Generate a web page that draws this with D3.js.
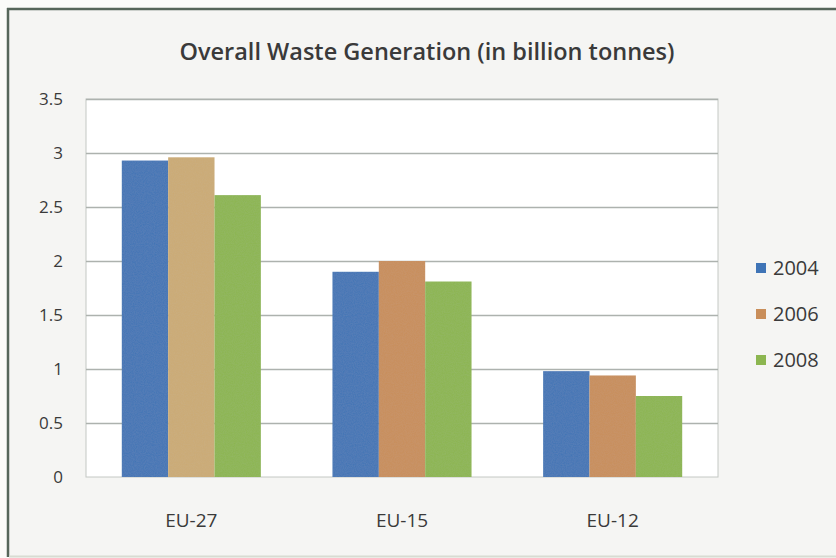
<!DOCTYPE html>
<html>
<head>
<meta charset="utf-8">
<script src="https://cdn.jsdelivr.net/npm/d3@7"></script>
<style>
  html, body { margin: 0; padding: 0; background: #fdfdfb; }
  svg { display: block; }
  text { font-family: "Open Sans", Lato, "DejaVu Sans", sans-serif; fill: #3a3a3a; }
</style>
</head>
<body>
<svg id="chart" width="836" height="558"></svg>
<script>
// Overall waste generation, billion tonnes
const categories = ["EU-27", "EU-15", "EU-12"];
const years = ["2004", "2006", "2008"];
const values2004 = [2.93, 1.90, 0.98];
const values2006 = [2.96, 2.00, 0.94];
const values2008 = [2.61, 1.81, 0.75];
const yTicks = [0, 0.5, 1, 1.5, 2, 2.5, 3, 3.5];
const title = "Overall Waste Generation (in billion tonnes)";

const seriesValues = [values2004, values2006, values2008];
const colors = ["#3f74b6", "#c98e5a", "#8cb650"];
// the EU-27 2006 bar prints in a lighter tan shade
const tanShade = "#ccab74";

const svg = d3.select("#chart");
const W = 836, H = 558;

// grain filter for the printed look, kept inside each shape
const defs = svg.append("defs");
const grain = defs.append("filter").attr("id", "grain");
grain.append("feTurbulence").attr("type", "fractalNoise").attr("baseFrequency", 0.9).attr("numOctaves", 2).attr("seed", 3).attr("result", "noise");
grain.append("feColorMatrix").attr("in", "noise").attr("type", "matrix")
  .attr("values", "0 0 0 0 0.5  0 0 0 0 0.5  0 0 0 0 0.5  0 0 0 0.12 0").attr("result", "tint");
grain.append("feComposite").attr("in", "tint").attr("in2", "SourceGraphic").attr("operator", "in").attr("result", "grainOnly");
const merge = grain.append("feMerge");
merge.append("feMergeNode").attr("in", "SourceGraphic");
merge.append("feMergeNode").attr("in", "grainOnly");

// chart frame
svg.append("rect").attr("x", 0).attr("y", 0).attr("width", W).attr("height", H).attr("fill", "#fbfbf9");
svg.append("rect").attr("x", 8).attr("y", 9).attr("width", W).attr("height", 547).attr("fill", "#f5f5f3");
svg.append("line").attr("x1", 8).attr("x2", 8).attr("y1", 8).attr("y2", 557).attr("stroke", "#56665a").attr("stroke-width", 2.5);
svg.append("line").attr("x1", 7).attr("x2", W).attr("y1", 9).attr("y2", 9).attr("stroke", "#56665a").attr("stroke-width", 2.5);
svg.append("line").attr("x1", 9).attr("x2", W).attr("y1", 556.5).attr("y2", 556.5).attr("stroke", "#d8dcd2").attr("stroke-width", 2);

const plot = { left: 86, right: 718, top: 99, bottom: 477 };

const x0 = d3.scaleBand().domain(categories).range([plot.left, plot.right]).paddingInner(0.34).paddingOuter(0.17);
const x1 = d3.scaleBand().domain(years).range([0, x0.bandwidth()]).padding(0);
const y = d3.scaleLinear().domain([0, 3.5]).range([plot.bottom, plot.top]);

// plot area
svg.append("rect").attr("x", plot.left).attr("y", plot.top)
  .attr("width", plot.right - plot.left).attr("height", plot.bottom - plot.top)
  .attr("fill", "#ffffff").attr("stroke", "#c4c8c4").attr("stroke-width", 1);

// gridlines
svg.append("g").selectAll("line").data(yTicks.filter(d => d > 0)).join("line")
  .attr("x1", plot.left).attr("x2", plot.right)
  .attr("y1", d => Math.round(y(d)) + 0.5).attr("y2", d => Math.round(y(d)) + 0.5)
  .attr("stroke", "#adb2ae").attr("stroke-width", 1.3);

// y axis labels
const yAxis = d3.axisLeft(y).tickValues(yTicks).tickFormat(d3.format("")).tickSize(0).tickPadding(0);
const gy = svg.append("g").attr("transform", `translate(63,0)`).call(yAxis);
gy.select(".domain").remove();
gy.selectAll("text").style("font-size", "17px").attr("fill", "#3a3a3a").attr("dy", "0.35em");

// x axis labels
const xAxis = d3.axisBottom(x0).tickSize(0).tickPadding(0);
const gx = svg.append("g").attr("transform", `translate(0,513)`).call(xAxis);
gx.select(".domain").remove();
gx.selectAll("text").style("font-size", "19px").attr("fill", "#3a3a3a");

// bars
const barData = [];
categories.forEach((c, ci) => {
  years.forEach((yr, si) => {
    barData.push({ cat: c, year: yr, value: seriesValues[si][ci], si, ci });
  });
});
svg.append("g").selectAll("rect").data(barData).join("rect")
  .attr("x", d => x0(d.cat) + x1(d.year))
  .attr("y", d => y(d.value))
  .attr("width", x1.bandwidth())
  .attr("height", d => y(0) - y(d.value))
  .attr("fill", d => (d.ci === 0 && d.si === 1) ? tanShade : colors[d.si])
  .attr("filter", "url(#grain)");

// title
svg.append("text").attr("x", 427).attr("y", 60).attr("text-anchor", "middle")
  .style("font-size", "23.5px").style("font-weight", 600).attr("fill", "#333").text(title);

// legend
const legend = svg.append("g").selectAll("g").data(years).join("g")
  .attr("transform", (d, i) => `translate(756,${263 + i * 46})`);
legend.append("rect").attr("width", 10).attr("height", 10).attr("fill", (d, i) => colors[i]);
legend.append("text").attr("x", 17).attr("y", 5).attr("dy", "0.36em")
  .style("font-size", "20px").attr("fill", "#3a3a3a").text(d => d);
</script>
</body>
</html>
